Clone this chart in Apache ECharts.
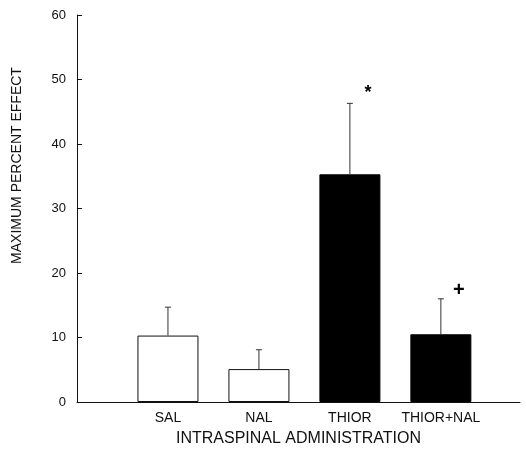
<!DOCTYPE html>
<html>
<head>
<meta charset="utf-8">
<script src="https://cdn.jsdelivr.net/npm/echarts@6/dist/echarts.min.js"></script>
<style>html,body{margin:0;padding:0;background:#fff}#c{width:526px;height:449px}</style>
</head>
<body>
<div id="c"></div>
<script>
const categories = ['SAL', 'NAL', 'THIOR', 'THIOR+NAL'];
const means = [10.3, 5.1, 35.3, 10.5];
const errorTops = [14.7, 8.1, 46.3, 16.0];
const marks = ['', '', '*', '+'];
const yTicks = [0, 10, 20, 30, 40, 50, 60];

const FONT = '"Liberation Sans", Arial, sans-serif';
const chart = echarts.init(document.getElementById('c'), null, {renderer: 'canvas'});

const barData = means.map((v, i) => ({
  value: [i + 1, v],
  itemStyle: i >= 2 ? {color: '#000', borderColor: '#000', borderWidth: 1}
                    : {color: '#fff', borderColor: '#111', borderWidth: 1}
}));
const errData = means.map((v, i) => [i + 1, v, errorTops[i]]);
const markData = marks.map((m, i) => [i + 1, errorTops[i], m]).filter(d => d[2]);

chart.setOption({
  animation: false,
  backgroundColor: '#fff',
  grid: {left: 77, right: 6, top: 15, bottom: 47, containLabel: false, outerBoundsMode: 'none'},
  xAxis: {
    type: 'value', min: 0, max: 4.87, interval: 1,
    splitLine: {show: false},
    axisTick: {show: false},
    axisLine: {lineStyle: {color: '#111', width: 1}},
    axisLabel: {
      color: '#111', fontFamily: FONT, fontSize: 14, margin: 9,
      formatter: v => categories[Math.round(v) - 1] || ''
    },
    name: 'INTRASPINAL ADMINISTRATION', nameLocation: 'middle', nameGap: 29,
    nameTextStyle: {color: '#111', fontFamily: FONT, fontSize: 16}
  },
  yAxis: {
    type: 'value', min: 0, max: 60, interval: 10,
    splitLine: {show: false},
    axisLine: {show: true, lineStyle: {color: '#111', width: 1}},
    axisTick: {show: true, inside: true, length: 5, lineStyle: {color: '#111'}},
    axisLabel: {color: '#111', fontFamily: FONT, fontSize: 13, margin: 11,
      formatter: v => yTicks.includes(v) ? String(v) : ''},
    name: 'MAXIMUM PERCENT EFFECT', nameLocation: 'middle', nameGap: 53,
    nameTextStyle: {color: '#111', fontFamily: FONT, fontSize: 14, padding: [0, 0, 0, 86]}
  },
  series: [
    {
      type: 'bar', data: barData, barWidth: 61, z: 2
    },
    {
      type: 'custom', data: errData, z: 3,
      renderItem: function (params, api) {
        const x = api.value(0);
        const p0 = api.coord([x, api.value(1)]);
        const p1 = api.coord([x, api.value(2)]);
        const style = {stroke: '#333', lineWidth: 1};
        return {
          type: 'group',
          children: [
            {type: 'line', shape: {x1: p0[0], y1: p0[1], x2: p1[0], y2: p1[1]}, style},
            {type: 'line', shape: {x1: p1[0] - 3, y1: p1[1], x2: p1[0] + 3, y2: p1[1]}, style}
          ]
        };
      }
    },
    {
      type: 'custom', data: markData, z: 4,
      renderItem: function (params, api) {
        const p = api.coord([api.value(0), api.value(1)]);
        const txt = markData[params.dataIndex][2];
        const isStar = txt === '*';
        return {
          type: 'text',
          style: {
            text: txt, x: p[0] + 18, y: p[1] - (isStar ? 10 : 8),
            fill: '#000', fontFamily: FONT, fontWeight: 'bold',
            fontSize: isStar ? 18 : 20, align: 'center', verticalAlign: 'middle'
          }
        };
      }
    }
  ]
});
</script>
</body>
</html>
